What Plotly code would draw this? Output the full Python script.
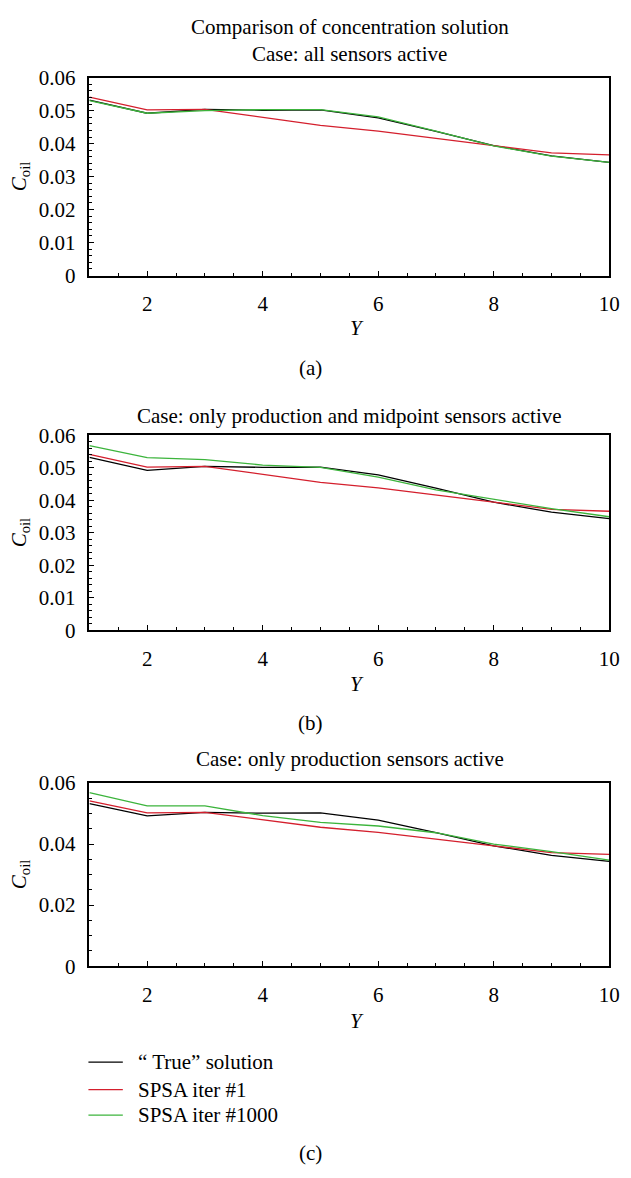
import plotly.graph_objects as go

# ---------------- data ----------------
Y_pos = [1, 2, 3, 4, 5, 6, 7, 8, 9, 10]

true_solution = [0.0532, 0.0492, 0.0504, 0.0501, 0.0502, 0.0478, 0.0437, 0.0394, 0.0363, 0.0343]
spsa_iter1 = [0.0541, 0.0502, 0.0504, 0.0480, 0.0455, 0.0438, 0.0417, 0.0394, 0.0372, 0.0366]

spsa_iter1000_a = [0.0530, 0.0492, 0.0500, 0.0503, 0.0503, 0.0481, 0.0438, 0.0393, 0.0362, 0.0343]
spsa_iter1000_b = [0.0568, 0.0531, 0.0525, 0.0508, 0.0501, 0.0471, 0.0432, 0.0402, 0.0374, 0.0349]
spsa_iter1000_c = [0.0568, 0.0525, 0.0525, 0.0493, 0.0471, 0.0459, 0.0437, 0.0400, 0.0375, 0.0347]

series_names = ["\u201c True\u201d solution", "SPSA iter #1", "SPSA iter #1000"]
panel_titles = ["Case: all sensors active",
                "Case: only production and midpoint sensors active",
                "Case: only production sensors active"]
panel_labels = ["(a)", "(b)", "(c)"]
main_title = "Comparison of concentration solution"

# ---------------- styling ----------------
W, H = 631, 1178
FONT = "Liberation Serif"
FS = 21
BLACK = "#000000"
RED = "#d41f2d"
GREEN = "#3cb43c"
COLORS = [BLACK, RED, GREEN]


def px(x):
    return x / W


def py(y):
    return 1 - y / H


# panel pixel geometry (top, bottom)
panels = [(67, 269), (432, 631), (787, 974)]
x_left, x_right = 91, 620

fig = go.Figure()

green_sets = [spsa_iter1000_a, spsa_iter1000_b, spsa_iter1000_c]
for i in range(3):
    xa = "x" if i == 0 else f"x{i+1}"
    ya = "y" if i == 0 else f"y{i+1}"
    for name, vals, col in zip(series_names,
                               [true_solution, spsa_iter1, green_sets[i]],
                               COLORS):
        fig.add_trace(go.Scatter(
            x=Y_pos, y=vals, mode="lines", name=name,
            line=dict(color=col, width=1.3),
            xaxis=xa, yaxis=ya, showlegend=False,
        ))

axis_common = dict(showgrid=False, zeroline=False, showline=True,
                   linecolor=BLACK, linewidth=1.5, mirror=True,
                   ticks="inside", tickcolor=BLACK, tickwidth=1,
                   tickfont=dict(family=FONT, size=FS, color=BLACK))

layout = dict(width=W, height=H, margin=dict(l=0, r=0, t=0, b=0),
              paper_bgcolor="white", plot_bgcolor="white",
              font=dict(family=FONT, size=FS, color=BLACK),
              showlegend=False)

for i, (top, bot) in enumerate(panels):
    sx = "" if i == 0 else str(i + 1)
    ydt = 0.02 if i == 2 else 0.01
    ymin = 0.005 if i == 2 else 0.002
    layout["xaxis" + sx] = dict(
        domain=[px(x_left), px(x_right)], range=[1, 10],
        anchor="y" + sx, tickmode="linear", tick0=0, dtick=2,
        ticklen=5, ticklabelstandoff=9,
        minor=dict(tickmode="linear", tick0=0, dtick=0.5, ticks="inside",
                   ticklen=3, tickcolor=BLACK, tickwidth=1),
        **axis_common)
    layout["yaxis" + sx] = dict(
        domain=[py(bot), py(top)], range=[0, 0.06],
        anchor="x" + sx, tickmode="linear", tick0=0, dtick=ydt,
        ticklen=5, ticklabelstandoff=8,
        minor=dict(tickmode="linear", tick0=0, dtick=ymin, ticks="inside",
                   ticklen=3, tickcolor=BLACK, tickwidth=1),
        **axis_common)

fig.update_layout(**layout)


def ann(text, x, y, size=FS, angle=0, xanchor="center"):
    fig.add_annotation(text=text, x=px(x), y=py(y), xref="paper", yref="paper",
                       xanchor=xanchor, yanchor="middle", showarrow=False,
                       textangle=angle, font=dict(family=FONT, size=size, color=BLACK))


ann(main_title, 356, 15)
title_y = [43, 412, 763]
xlab_y = [323, 686, 1030]
plab_y = [363, 726, 1165]
for i, (top, bot) in enumerate(panels):
    ann(panel_titles[i], 356, title_y[i])
    ann("<i>Y</i>", 363, xlab_y[i])
    ann(panel_labels[i], 316, plab_y[i])
    ann("<i>C</i><sub>oil</sub>", 20, (top + bot) / 2, angle=-90)

# legend (key lines + labels)
legend_y = [1072, 1100, 1126]
for name, col, ly in zip(series_names, COLORS, legend_y):
    fig.add_shape(type="line", xref="paper", yref="paper",
                  x0=px(90), x1=px(125), y0=py(ly), y1=py(ly),
                  line=dict(color=col, width=1.3))
    ann(name, 138, ly, xanchor="left")

fig.write_html("out.html")
